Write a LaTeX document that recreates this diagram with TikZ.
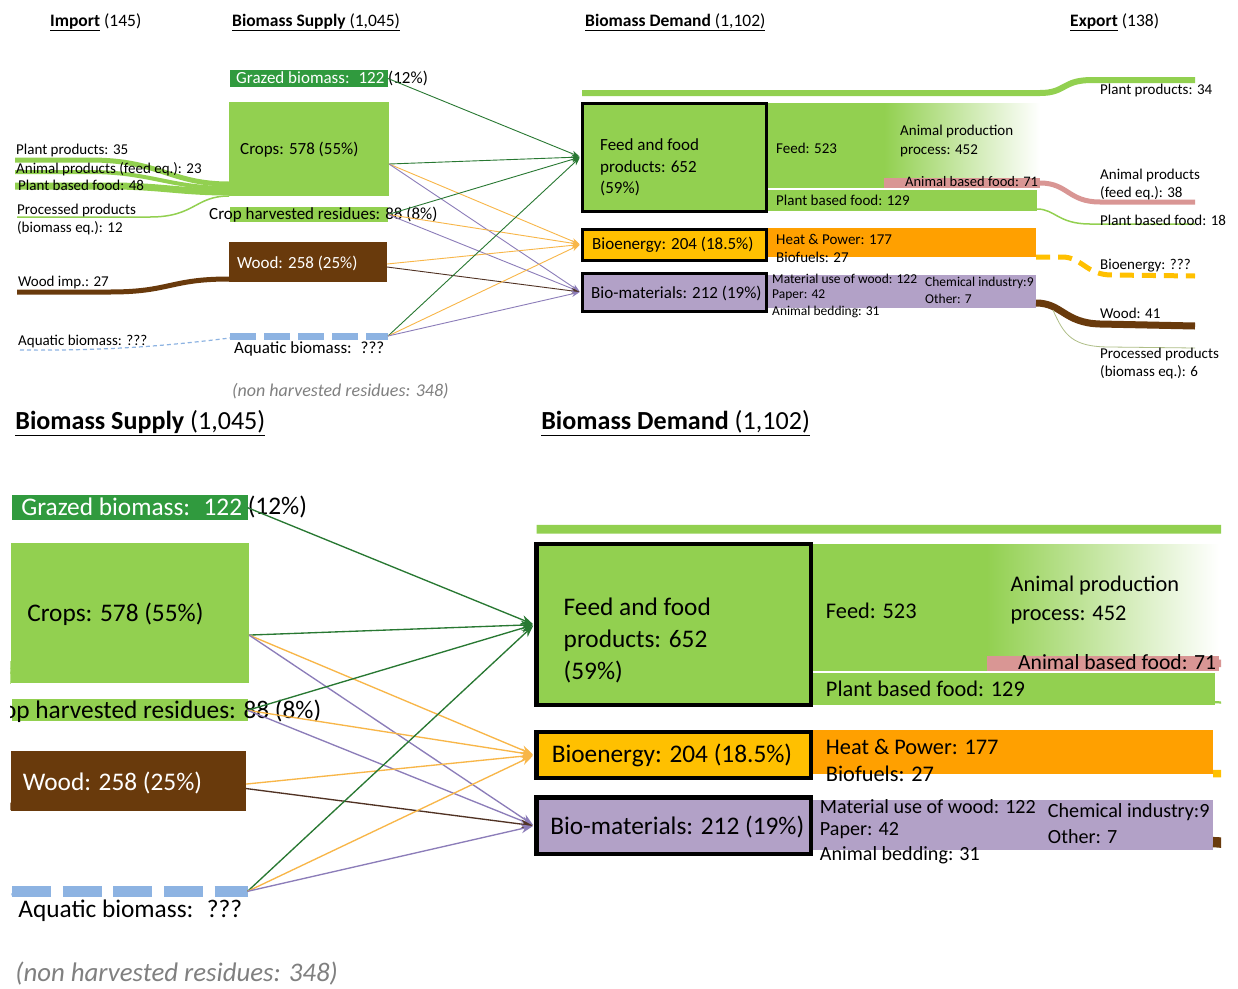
\documentclass[tikz,border=0pt]{standalone}
\usepackage{fontspec}
\setmainfont{Carlito}
\usetikzlibrary{arrows.meta}
\definecolor{lgreen}{RGB}{146,208,80}
\definecolor{dgreen}{RGB}{48,154,62}
\definecolor{woodc}{RGB}{105,58,12}
\definecolor{aquac}{RGB}{141,179,226}
\definecolor{bioenbox}{RGB}{255,192,0}
\definecolor{bioenflow}{RGB}{255,160,0}
\definecolor{lav}{RGB}{178,161,199}
\definecolor{pinkc}{RGB}{217,150,148}
\definecolor{agreen}{RGB}{40,120,50}
\definecolor{aorange}{RGB}{248,182,72}
\definecolor{apurple}{RGB}{140,125,185}
\definecolor{abrown}{RGB}{80,50,35}
\definecolor{grayt}{RGB}{128,128,128}
\definecolor{thinolive}{RGB}{175,190,135}
\newif\ifshowouter
\tikzset{
 lbl/.style={anchor=west, inner sep=0pt, align=left, font=\fontsize{15}{18}\selectfont},
 biglbl/.style={lbl, font=\fontsize{17}{21.5}\selectfont},
 smalllbl/.style={lbl, font=\fontsize{13.5}{16.5}\selectfont},
 hdlbl/.style={lbl, font=\fontsize{17.5}{21}\selectfont},
 bar/.style={inner sep=0pt, outer sep=0pt, draw=none},
 dbox/.style={draw=black, line width=3pt, inner sep=0pt},
 arr/.style={-{Stealth[length=8pt,width=6pt]}, line width=0.9pt, shorten >=1pt},
}
\newcommand\drawcore[1]{%
% headings
\ifshowouter
\node[hdlbl] (#1hImp) at (50,22) {\underline{\textbf{Import}} (145)};
\node[hdlbl] (#1hExp) at (1070,22) {\underline{\textbf{Export}} (138)};
\fi
\node[hdlbl] (#1hSup) at (232,22) {\underline{\textbf{Biomass Supply} (1,045)}};
\node[hdlbl] (#1hDem) at (585,22) {\underline{\textbf{Biomass Demand} (1,102)}};
% import flows
\draw[lgreen, line width=5pt] (15,160) -- (90,160) .. controls (160,160) and (170,184) .. (229,184);
\draw[lgreen, line width=4pt] (15,172) -- (90,172) .. controls (150,172) and (170,188) .. (229,188);
\draw[lgreen, line width=7pt] (15,186) -- (110,186) .. controls (160,186) and (180,192) .. (229,192);
\draw[lgreen, line width=1.5pt] (17,217) -- (150,217) .. controls (195,217) and (195,196) .. (229,196);
\draw[woodc, line width=5pt] (17,292) -- (110,292) .. controls (170,292) and (170,279) .. (229,279);
\draw[aquac, line width=1.2pt, dash pattern=on 4pt off 3pt] (20,350) .. controls (120,351) and (180,344) .. (230,338);
% import labels
\ifshowouter
\node[lbl] (#1iPP) at (16,150) {Plant products: 35};
\node[lbl] (#1iAP) at (16,169) {Animal products (feed eq.): 23};
\node[lbl] (#1iPF) at (18,185) {Plant based food: 48};
\node[lbl] (#1iPr) at (17,219) {Processed products\\(biomass eq.): 12};
\node[lbl] (#1iWo) at (18,282) {Wood imp.: 27};
\node[lbl] (#1iAq) at (18,341) {Aquatic biomass: ???};
\fi
% supply bars
\node[bar, fill=dgreen, minimum width=158pt, minimum height=17pt] (#1grazed) at (309,78.5) {};
\node[bar, fill=lgreen, minimum width=160pt, minimum height=94pt] (#1crops) at (309,149) {};
\node[bar, fill=lgreen, minimum width=158pt, minimum height=15pt] (#1resid) at (309,214.5) {};
\node[bar, fill=woodc, minimum width=158pt, minimum height=40pt] (#1wood) at (308,262) {};
\node[bar, minimum width=158pt, minimum height=7pt] (#1aqua) at (309,336) {};
\draw[aquac, line width=7pt, dash pattern=on 26pt off 8pt] (#1aqua.west) -- (#1aqua.east);
\node[biglbl, text=white] (#1grazedT) at (236,78) {Grazed biomass: \ 122};
\node[biglbl] (#1grazedP) at (388,78) {(12\%)};
\node[biglbl] (#1cropsT) at (240,150) {Crops: 578 (55\%)};
\node[biglbl] (#1residT) at (209,215) {Crop harvested residues: 88 (8\%)};
\node[biglbl, text=white] (#1woodT) at (237,263) {Wood: 258 (25\%)};
\node[biglbl] (#1aquaT) at (234,349) {Aquatic biomass: \ ???};
\node[biglbl, text=grayt, font=\fontsize{18}{21}\selectfont\itshape] (#1nonh) at (232,391) {(non harvested residues: 348)};
% demand flows
\draw[lgreen, line width=6pt] (582,93) -- (1040,93) .. controls (1066,93) and (1062,80) .. (1092,80) -- (1195,80);
\fill[lgreen] (766,103) rectangle (885,188);
\shade[left color=lgreen, right color=white] (884,103) rectangle (1040,178);
\fill[pinkc] (884,178) rectangle (1040,188);
\fill[lgreen] (766,189.5) rectangle (1037,211);
\fill[bioenflow] (766,228) rectangle (1036,257);
\fill[lav] (766,275) rectangle (1036,308);
% export flows
\draw[pinkc, line width=5pt] (1040,183) .. controls (1068,183) and (1068,202) .. (1100,202) -- (1195,202);
\draw[lgreen, line width=1.5pt] (1037,209) .. controls (1055,209) and (1058,224) .. (1090,224) -- (1195,224);
\draw[bioenbox, line width=5pt, dash pattern=on 14pt off 8pt] (1036,257) -- (1062,257) .. controls (1082,257) and (1086,275) .. (1112,275) -- (1195,276);
\draw[woodc, line width=7pt] (1036,303) .. controls (1062,303) and (1064,323) .. (1100,324) -- (1195,326);
\draw[thinolive, line width=0.8pt] (1053,310) .. controls (1064,335) and (1072,347) .. (1110,347) -- (1195,348);
% demand boxes
\node[dbox, fill=lgreen, minimum width=184pt, minimum height=108pt] (#1feed) at (674,157) {};
\node[dbox, fill=bioenbox, minimum width=184pt, minimum height=31pt] (#1bioen) at (674,244.5) {};
\node[dbox, fill=lav, minimum width=184pt, minimum height=38pt] (#1biomat) at (674,292) {};
\node[biglbl] (#1feedT) at (600,167.5) {Feed and food\\products: 652\\(59\%)};
\node[biglbl] (#1bioenT) at (592,245) {Bioenergy: 204 (18.5\%)};
\node[biglbl] (#1biomatT) at (591,293) {Bio-materials: 212 (19\%)};
% demand labels
\node[lbl] (#1dFeed) at (776,148) {Feed: 523};
\node[lbl, font=\fontsize{15}{19}\selectfont] (#1dAnim) at (900,140.5) {Animal production\\process: 452};
\node[lbl, font=\fontsize{14.5}{17}\selectfont] (#1dABF) at (905,182) {Animal based food: 71};
\node[lbl] (#1dPBF) at (776,200) {Plant based food: 129};
\node[lbl] (#1dHP) at (776,239) {Heat \& Power: 177};
\node[lbl] (#1dBF) at (776,257) {Biofuels: 27};
\node[smalllbl] (#1dMat) at (772,279) {Material use of wood: 122};
\node[smalllbl] (#1dPap) at (772,295) {Paper: 42};
\node[smalllbl] (#1dBed) at (772,312) {Animal bedding: 31};
\node[smalllbl] (#1dChem) at (925,283) {Chemical industry:9};
\node[smalllbl] (#1dOth) at (925,299) {Other: 7};
% export labels
\ifshowouter
\node[lbl] (#1ePP) at (1100,90) {Plant products: 34};
\node[lbl] (#1eAP) at (1100,184) {Animal products\\(feed eq.): 38};
\node[lbl] (#1ePF) at (1100,220) {Plant based food: 18};
\node[lbl] (#1eBE) at (1100,266) {Bioenergy: ???};
\node[lbl] (#1eWo) at (1100,313) {Wood: 41};
\node[lbl] (#1ePr) at (1100,363) {Processed products\\(biomass eq.): 6};
\fi
% connectors
\draw[arr, agreen] (#1grazed.east) -- (#1feed.west);
\draw[arr, agreen] ([yshift=-15pt]#1crops.east) -- (#1feed.west);
\draw[arr, aorange] ([yshift=-15pt]#1crops.east) -- (#1bioen.west);
\draw[arr, apurple] ([yshift=-15pt]#1crops.east) -- (#1biomat.west);
\draw[arr, agreen] (#1resid.east) -- (#1feed.west);
\draw[arr, aorange] (#1resid.east) -- (#1bioen.west);
\draw[arr, apurple] (#1resid.east) -- (#1biomat.west);
\draw[arr, aorange] ([yshift=-2pt]#1wood.east) -- (#1bioen.west);
\draw[arr, abrown] ([yshift=-5pt]#1wood.east) -- (#1biomat.west);
\draw[arr, agreen] (#1aqua.east) -- (#1feed.west);
\draw[arr, aorange] (#1aqua.east) -- (#1bioen.west);
\draw[arr, apurple] (#1aqua.east) -- (#1biomat.west);
}
\begin{document}
\begin{tikzpicture}[x=1pt,y=-1pt]
\path[use as bounding box, fill=white] (0,0) rectangle (1238,988);
\showoutertrue
\drawcore{t}
\showouterfalse
\begin{scope}
\clip (10,405) rectangle (1221,988);
\begin{scope}[transform canvas={shift={(-330.6,390.7)}, scale=1.49}]
\drawcore{b}
\end{scope}
\end{scope}
\end{tikzpicture}
\end{document}
